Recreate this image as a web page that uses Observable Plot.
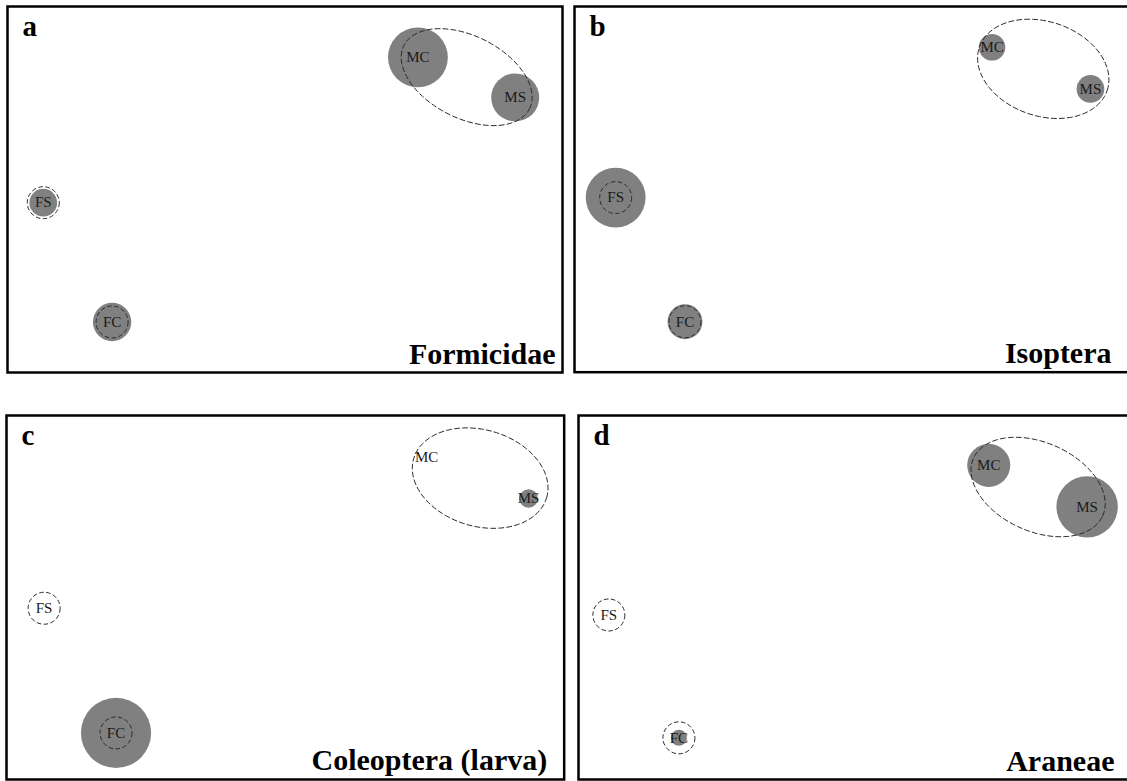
<!DOCTYPE html>
<html>
<head>
<meta charset="utf-8">
<script src="https://cdn.jsdelivr.net/npm/d3@7"></script>
<script src="https://cdn.jsdelivr.net/npm/@observablehq/plot@0.6"></script>
<style>
  html, body { margin: 0; padding: 0; background: #fff; }
  #root { position: relative; width: 1127px; height: 781px; overflow: hidden; background: #fff; }
  .panel { position: absolute; }
  .panel svg { overflow: visible; max-width: none !important; }
</style>
</head>
<body>
<div id="root"></div>
<script>
// ---- data ----
const panelLetters = ["a", "b", "c", "d"];
const taxa = ["Formicidae", "Isoptera", "Coleoptera (larva)", "Araneae"];
const groups = ["MC", "MS", "FS", "FC"];

// ordination coordinates (x: axis 1, y: axis 2) per panel
const xA = [0.728, 1.261, -1.324, -0.947];
const yA = [0.722, 0.503, -0.072, -0.724];
const xB = [0.763, 1.301, -1.295, -0.916];
const yB = [0.777, 0.549, -0.045, -0.724];
const xC = [0.770, 1.326, -1.315, -0.923];
const yC = [0.772, 0.544, -0.059, -0.744];
const xD = [0.723, 1.261, -1.354, -0.971];
const yD = [0.726, 0.498, -0.096, -0.771];

// relative abundance (bubble size)
const abundA = [56, 36, 12, 23];
const abundB = [11, 12, 56, 19];
const abundC = [0, 5.4, 0, 77];
const abundD = [29, 59, 0, 4];

// group ellipse for the M (MC + MS) sites: centre x, centre y, semi-axis 1, semi-axis 2, angle (deg)
const ellipseA = [0.995, 0.614, 0.385, 0.225, -26.6];
const ellipseB = [1.043, 0.659, 0.369, 0.258, -18.7];
const ellipseC = [1.062, 0.656, 0.378, 0.265, -16.7];
const ellipseD = [0.993, 0.607, 0.387, 0.244, -24.2];

// ---- layout (pixels) ----
const layout = [
  {left: 6.5, top: 6, w: 555, h: 366, tdx: -7},
  {left: 574.3, top: 6, w: 556, h: 365.7, tdx: -19},
  {left: 6, top: 415, w: 557.7, h: 364, tdx: -17},
  {left: 578.3, top: 415, w: 556, h: 364, tdx: -20}
];

const xs = [xA, xB, xC, xD];
const ys = [yA, yB, yC, yD];
const abunds = [abundA, abundB, abundC, abundD];
const ellipses = [ellipseA, ellipseB, ellipseC, ellipseD];

const serif = "'Liberation Serif', 'Times New Roman', Times, serif";
const M = 2;
const root = document.getElementById("root");

function ellipsePath(e) {
  const [cx, cy, a, b, deg] = e;
  const t = deg * Math.PI / 180;
  return d3.range(0, 361, 4).map(k => {
    const u = k * Math.PI / 180;
    const ex = a * Math.cos(u), ey = b * Math.sin(u);
    return {x: cx + ex * Math.cos(t) - ey * Math.sin(t), y: cy + ex * Math.sin(t) + ey * Math.cos(t)};
  });
}

panelLetters.forEach((letter, i) => {
  const L = layout[i];
  const pts = groups.map((g, j) => ({group: g, x: xs[i][j], y: ys[i][j], abund: abunds[i][j]}));
  const fPts = pts.filter(d => d.group[0] === "F");
  const W = L.w + 2 * M, H = L.h + 2 * M;
  const chart = Plot.plot({
    width: W,
    height: H,
    margin: M,
    style: {background: "transparent", fontFamily: serif, maxWidth: "none"},
    x: {domain: [-1.52, 1.52], axis: null},
    y: {domain: [-1, 1], axis: null},
    r: {type: "sqrt", domain: [0, 100], range: [0, 40]},
    marks: [
      Plot.dot(pts, {x: "x", y: "y", r: "abund", fill: "#808080", stroke: "none"}),
      Plot.dot(fPts, {x: "x", y: "y", r: 16, fill: "none", stroke: "#2a2a2a", strokeWidth: 1, strokeDasharray: "4.5,2.5"}),
      Plot.line(ellipsePath(ellipses[i]), {x: "x", y: "y", curve: "linear-closed", stroke: "#2a2a2a", strokeWidth: 1, strokeDasharray: "5,3"}),
      Plot.text(pts, {x: "x", y: "y", text: "group", fontSize: 15, fill: "#1a1a1a", fontFamily: serif}),
      Plot.frame({stroke: "#000", strokeWidth: 2.5}),
      Plot.text([letter], {text: d => d, frameAnchor: "top-left", textAnchor: "start", lineAnchor: "top", dx: 15, dy: 9, fontSize: 29, fontWeight: "bold", fill: "#000", fontFamily: serif}),
      Plot.text([taxa[i]], {text: d => d, frameAnchor: "bottom-right", textAnchor: "end", lineAnchor: "bottom", dx: L.tdx, dy: -9, fontSize: 30, fontWeight: "bold", fill: "#000", fontFamily: serif})
    ]
  });
  const div = document.createElement("div");
  div.className = "panel";
  div.style.left = (L.left - M) + "px";
  div.style.top = (L.top - M) + "px";
  div.style.width = W + "px";
  div.style.height = H + "px";
  div.appendChild(chart);
  root.appendChild(div);
});
</script>
</body>
</html>
